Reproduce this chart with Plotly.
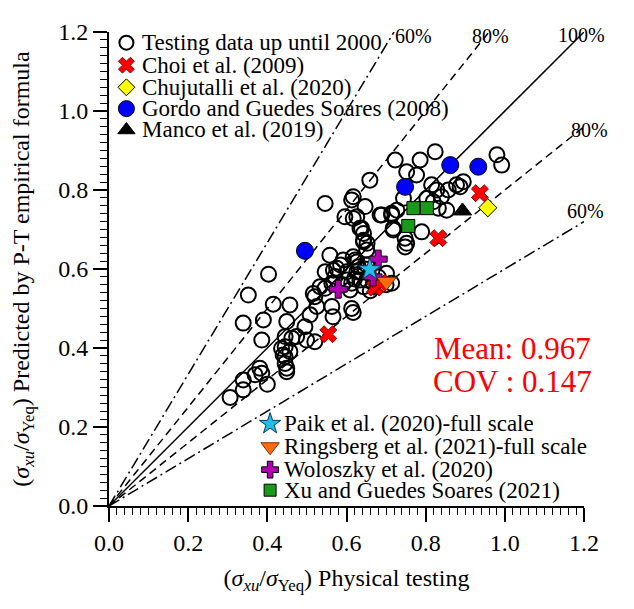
import plotly.graph_objects as go

# ---------------- data ----------------
test_x = [0.306,0.339,0.339,0.369,0.381,0.386,0.400,0.352,0.339,0.390,0.403,0.415,0.457,0.449,
          0.386,0.445,0.474,0.499,0.520,0.445,0.457,0.445,0.449,0.462,0.436,0.445,0.440,0.449,
          0.508,0.495,0.520,0.525,0.546,0.563,0.613,0.617,0.566,0.558,0.592,0.622,0.575,0.571,
          0.601,0.546,0.613,0.596,0.685,0.714,0.634,0.718,0.643,0.651,0.617,0.659,
          0.626,0.634,0.651,0.613,0.643,0.668,0.701,0.714,0.601,0.609,0.563,0.546,0.626,0.651,
          0.626,0.638,0.643,0.643,0.652,0.617,0.647,0.689,0.714,0.727,0.832,0.853,0.630,0.647,
          0.718,0.790,0.748,0.752,0.748,0.516,0.533,0.567,
          0.824,0.980,0.992,0.723,0.786,0.752,0.777,0.828,0.857,0.895,0.617,0.744,0.803,0.815,
          0.878,0.887,0.819,0.840,0.590,0.680,0.700,0.660,0.620,0.585]
test_y = [0.275,0.294,0.319,0.332,0.349,0.336,0.308,0.534,0.463,0.471,0.587,0.511,0.509,0.467,
          0.420,0.429,0.429,0.420,0.416,0.403,0.391,0.361,0.340,0.425,0.399,0.378,0.382,0.349,
          0.484,0.454,0.530,0.505,0.551,0.505,0.500,0.490,0.479,0.635,0.623,0.623,0.602,0.581,
          0.593,0.766,0.775,0.732,0.737,0.737,0.703,0.699,0.673,0.648,0.728,0.825,
          0.593,0.572,0.572,0.564,0.555,0.564,0.589,0.564,0.572,0.547,0.564,0.593,0.618,0.610,
          0.732,0.703,0.690,0.669,0.665,0.631,0.758,0.737,0.741,0.749,0.754,0.749,0.606,0.600,
          0.703,0.694,0.678,0.665,0.656,0.538,0.555,0.597,
          0.897,0.889,0.863,0.876,0.876,0.846,0.838,0.800,0.800,0.821,0.783,0.779,0.779,0.813,
          0.813,0.808,0.770,0.783,0.560,0.580,0.560,0.545,0.575,0.610]

choi_x = [0.554, 0.672, 0.686, 0.832, 0.937]
choi_y = [0.435, 0.553, 0.565, 0.678, 0.792]

chuj_x = [0.957]
chuj_y = [0.755]

gordo_x = [0.495, 0.748, 0.862, 0.933]
gordo_y = [0.646, 0.808, 0.863, 0.859]

manco_x = [0.893]
manco_y = [0.747]

paik_x = [0.659]
paik_y = [0.599]

rings_x = [0.701]
rings_y = [0.568]

wolo_x = [0.579, 0.667, 0.680]
wolo_y = [0.549, 0.580, 0.625]

xu_x = [0.769, 0.803, 0.756]
xu_y = [0.754, 0.754, 0.709]

ratio_values = [1.0, 1.25, 1 / 0.6, 0.8, 0.6]
ratio_labels = ["100%", "80%", "60%", "80%", "60%"]

mean_text = "Mean: 0.967"
cov_text = "COV : 0.147"

legend1_names = ["Testing data up until 2000", "Choi et al. (2009)", "Chujutalli et al. (2020)",
                 "Gordo and Guedes Soares (2008)", "Manco et al. (2019)"]
legend2_names = ["Paik et al. (2020)-full scale", "Ringsberg et al. (2021)-full scale",
                 "Woloszky et al. (2020)", "Xu and Guedes Soares (2021)"]

AX_MAX = 1.2
tick_vals = [0.0, 0.2, 0.4, 0.6, 0.8, 1.0, 1.2]

# ---------------- styles ----------------
FONT = "Liberation Serif"
styles = {
    "test": dict(symbol="circle-open", size=15, color="black", line=dict(width=2, color="black")),
    "choi": dict(symbol="x", size=15, color="#ff0000", line=dict(width=1, color="#8b0000")),
    "chuj": dict(symbol="diamond", size=14, color="#ffff00", line=dict(width=1, color="black")),
    "gordo": dict(symbol="circle", size=17, color="#0000ff", line=dict(width=1, color="black")),
    "manco": dict(symbol="triangle-up", size=16, color="black", line=dict(width=1, color="black")),
    "paik": dict(symbol="star", size=17, color="#22bde8", line=dict(width=1, color="#0a3a5a")),
    "rings": dict(symbol="triangle-down", size=17, color="#ff6a10", line=dict(width=1, color="#803000")),
    "wolo": dict(symbol="cross", size=15, color="#b000b0", line=dict(width=1, color="black")),
    "xu": dict(symbol="square", size=13, color="#1a9a1a", line=dict(width=1, color="black")),
}

fig = go.Figure()

# reference lines; labels placed in paper units
DASH = "8px,5px"
DASHDOT = "12px,4px,2px,4px"
line_dash = {0: "solid", 1: DASH, 2: DASHDOT, 3: DASH, 4: DASHDOT}
label_paper = [(1.048, 1.022), (0.846, 1.020), (0.640, 1.020), (1.055, 0.821), (1.046, 0.622)]
for i, r in enumerate(ratio_values):
    xe = min(AX_MAX, AX_MAX / r)
    ye = r * xe
    fig.add_trace(go.Scatter(x=[0, xe], y=[0, ye], mode="lines",
                             line=dict(color="black", width=1.5, dash=line_dash[i]),
                             showlegend=False, hoverinfo="skip"))
    fig.add_annotation(x=label_paper[i][0], y=label_paper[i][1], xref="paper", yref="paper",
                       text=ratio_labels[i], showarrow=False,
                       font=dict(family=FONT, size=20, color="black"))

def add(xs, ys, key):
    fig.add_trace(go.Scatter(x=xs, y=ys, mode="markers", marker=styles[key],
                             showlegend=False, cliponaxis=False))

add(test_x, test_y, "test")
add(xu_x, xu_y, "xu")
add(gordo_x, gordo_y, "gordo")
add(manco_x, manco_y, "manco")
add(chuj_x, chuj_y, "chuj")
add(choi_x, choi_y, "choi")
add(wolo_x, wolo_y, "wolo")
add(rings_x, rings_y, "rings")
add(paik_x, paik_y, "paik")

# manual legends (key positions in axis units)
leg1_keys = ["test", "choi", "chuj", "gordo", "manco"]
leg1_rows = [1.173, 1.116, 1.060, 1.006, 0.952]
leg1_sym_x, leg1_txt_x = 0.044, 0.078
leg2_keys = ["paik", "rings", "wolo", "xu"]
leg2_rows = [0.208, 0.150, 0.092, 0.040]
leg2_sym_x, leg2_txt_x = 0.407, 0.438

for keys, rows, names, sx, tx in [(leg1_keys, leg1_rows, legend1_names, leg1_sym_x, leg1_txt_x),
                                   (leg2_keys, leg2_rows, legend2_names, leg2_sym_x, leg2_txt_x)]:
    for k, yv, nm in zip(keys, rows, names):
        st = dict(styles[k])
        st["size"] = st["size"] - 1
        fig.add_trace(go.Scatter(x=[sx], y=[yv], mode="markers", marker=st,
                                 showlegend=False, cliponaxis=False, hoverinfo="skip"))
        fig.add_annotation(x=tx, y=yv, text=nm, showarrow=False, xanchor="left",
                           font=dict(family=FONT, size=23, color="black"))

fig.add_annotation(x=1.02, y=0.400, text=mean_text, showarrow=False,
                   font=dict(family=FONT, size=31, color="#ff0000"))
fig.add_annotation(x=1.02, y=0.316, text=cov_text, showarrow=False,
                   font=dict(family=FONT, size=31, color="#ff0000"))

axis_common = dict(range=[0, AX_MAX], tickvals=tick_vals, tickformat=".1f",
                   ticks="outside", ticklen=14, tickwidth=1.6, tickcolor="black",
                   showline=True, linewidth=2, linecolor="black", showgrid=False, zeroline=False,
                   tickfont=dict(family=FONT, size=24, color="black"),
                   minor=dict(dtick=0.02, ticks="outside", ticklen=7, tickwidth=1.2, tickcolor="black"))

fig.update_xaxes(**axis_common,
                 title=dict(text="(<i>σ</i><sub><i>xu</i></sub>/<i>σ</i><sub>Yeq</sub>) Physical testing",
                            font=dict(family=FONT, size=24, color="black"), standoff=14))
fig.update_yaxes(**axis_common,
                 title=dict(text="(<i>σ</i><sub><i>xu</i></sub>/<i>σ</i><sub>Yeq</sub>) Predicted by P-T empirical formula",
                            font=dict(family=FONT, size=24, color="black"), standoff=22))

fig.update_layout(width=634, height=609, margin=dict(l=109, r=50, t=32, b=103),
                  plot_bgcolor="white", paper_bgcolor="white", showlegend=False)

fig.write_html("out.html")
